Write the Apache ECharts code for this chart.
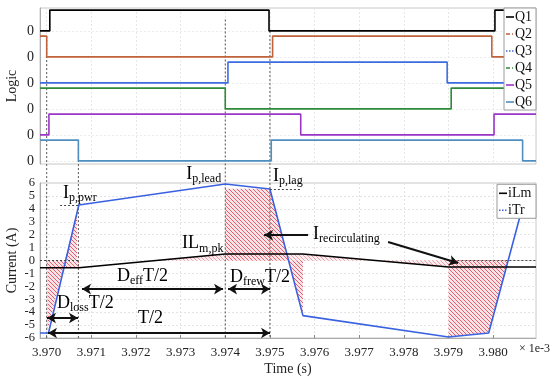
<!DOCTYPE html>
<html><head><meta charset="utf-8">
<script src="https://cdn.jsdelivr.net/npm/echarts@6/dist/echarts.min.js"></script>
<style>html,body{margin:0;padding:0;background:#fff}#c{width:550px;height:378px}</style>
</head><body><div id="c"></div>
<script>
// ---------- data ----------
const xMin = 3.96985, xMax = 3.98096;
const xTicks = [3.970,3.971,3.972,3.973,3.974,3.975,3.976,3.977,3.978,3.979,3.980];
const currentTicks = [-6,-5,-4,-3,-2,-1,0,1,2,3,4,5,6];
const logicNames = ['Q1','Q2','Q3','Q4','Q5','Q6'];
const logicOffsets = [6.25,5,3.75,2.5,1.25,0];
const q1Edges = [3.97007,3.97498,3.98004]; const q1States = [0,1,0,1];
const q2Edges = [3.97000,3.97506,3.97997]; const q2States = [1,0,1,0];
const q3Edges = [3.97406,3.97897];         const q3States = [0,1,0];
const q4Edges = [3.97400,3.97906];         const q4States = [1,0,1];
const q5Edges = [3.97005,3.97569,3.98002]; const q5States = [0,1,0,1];
const q6Edges = [3.97071,3.97503,3.98066]; const q6States = [1,0,1,0];
const logicColors = ['#000000','#c0623a','#3d6be0','#2f8a3a','#9a35c8','#4f8fc0'];
const logicDash = [null,[4,2,1,2],[1.5,1.5],[4,2,1,2],null,null];

const currentNames = ['iLm','iTr'];
const currentColors = ['#000000','#3a62e0'];
const currentDash = [null,[1.5,1.5]];
const iLmT = [3.96985,3.97072,3.9740,3.97574,3.9790,3.98096];
const iLmV = [-0.56,-0.56,0.50,0.50,-0.50,-0.50];
const iTrT = [3.96985,3.97004,3.97072,3.9740,3.9750,3.97574,3.9790,3.9799,3.98067,3.98096];
const iTrV = [-5.61,-5.61,4.30,5.92,5.53,-4.27,-5.92,-5.61,4.30,4.55];

const hatchAT = [3.97002,3.97068]; const hatchAV = [-5.40,3.80];
const hatchBT = [3.9740,3.9750,3.97574]; const hatchBV = [5.55,5.55,-4.27];
const hatchCT = [3.9790,3.9799,3.98034]; const hatchCV = [-5.92,-5.61,0];
const lmFillAT = [3.97000,3.97072]; const lmFillAV = [-0.56,-0.56];
const lmFillBT = [3.97228,3.9740,3.97574,3.9790,3.9799]; const lmFillBV = [0,0.50,0.50,-0.50,-0.50];

// guide lines (time, logic start value)
const guideT = [3.9700,3.97071,3.9740,3.9750];
const guideStart = [6.0,1.0,6.8,6.25];
// dotted horizontal references [t1,t2,value]
const refLines = [[3.96985,3.97072,0],[3.9703,3.97071,4.30],[3.9750,3.97569,5.53],[3.9792,3.98096,0]];
// arrows [t1,t2,value,startSymbol,endSymbol]
const arrows = [
  [3.970791,3.973950,-2.21,'arrow','arrow'],
  [3.974062,3.975003,-2.21,'arrow','arrow'],
  [3.970007,3.970701,-4.45,'arrow','arrow'],
  [3.970029,3.975003,-5.61,'arrow','arrow'],
  [3.975855,3.974869,1.97,'none','arrow']
];
const slantArrow = [[3.977647,1.43],[3.979216,-0.19]];
// annotations: [t, v, runs]
const notes = [
  [3.970365,5.22,[['I',0],['p,pwr',1]]],
  [3.973125,6.70,[['I',0],['p,lead',1]]],
  [3.975070,6.54,[['I',0],['p,lag',1]]],
  [3.973032,1.32,[['IL',0],['m,pk',1]]],
  [3.975967,2.05,[['I',0],['recirculating',1]]],
  [3.971575,-1.20,[['D',0],['eff',1],['T/2',0]]],
  [3.974107,-1.28,[['D',0],['frew',1],['T/2',0]]],
  [3.970231,-3.29,[['D',0],['loss',1],['T/2',0]]],
  [3.972046,-4.45,[['T/2',0]]]
];

// ---------- build ----------
const FONT = '"Liberation Serif", "Times New Roman", serif';
function stepData(edges, states, off){
  const d = [[xMin, states[0]+off]];
  edges.forEach((e,i)=>d.push([e, states[i+1]+off]));
  d.push([xMax, states[states.length-1]+off]);
  return d;
}
function zip(t,v){return t.map((x,i)=>[x,v[i]]);}
const logicEdges=[q1Edges,q2Edges,q3Edges,q4Edges,q5Edges,q6Edges];
const logicStates=[q1States,q2States,q3States,q4States,q5States,q6States];

const pc = document.createElement('canvas'); pc.width=4; pc.height=4;
const g = pc.getContext('2d');
g.fillStyle='#fbe3e7'; g.fillRect(0,0,4,4);
g.strokeStyle='#e0505e'; g.lineWidth=0.9;
g.beginPath(); g.moveTo(0,0); g.lineTo(4,4); g.moveTo(-1,3); g.lineTo(1,5); g.moveTo(3,-1); g.lineTo(5,1); g.stroke();
const hatch = {image: pc, repeat:'repeat'};

const series = [];
logicNames.forEach((n,i)=>{
  series.push({name:n,type:'line',xAxisIndex:0,yAxisIndex:0,step:'end',symbol:'none',
    data:stepData(logicEdges[i],logicStates[i],logicOffsets[i]),
    lineStyle:{color:logicColors[i],width:1.6},itemStyle:{color:logicColors[i]},z:3});
});
function areaSeries(t,v,op){
  return {type:'line',xAxisIndex:1,yAxisIndex:1,symbol:'none',data:zip(t,v),
    lineStyle:{width:0,opacity:0},areaStyle:{color:hatch,opacity:op,origin:0},z:1,silent:true};
}
series.push(areaSeries(lmFillAT,lmFillAV,0.9));
series.push(areaSeries(lmFillBT,lmFillBV,0.6));
series.push(areaSeries(hatchAT,hatchAV,1));
series.push(areaSeries(hatchBT,hatchBV,1));
series.push(areaSeries(hatchCT,hatchCV,1));

const mlData = [];
refLines.forEach(r=>mlData.push([{coord:[r[0],r[2]],symbol:'none',lineStyle:{type:[2,2],width:1,color:'#444'}},{coord:[r[1],r[2]],symbol:'none'}]));
arrows.forEach(a=>mlData.push([{coord:[a[0],a[2]],symbol:a[3],lineStyle:{type:'solid',width:2,color:'#111'}},{coord:[a[1],a[2]],symbol:a[4]}]));
mlData.push([{coord:slantArrow[0],symbol:'none',lineStyle:{type:'solid',width:2,color:'#111'}},{coord:slantArrow[1],symbol:'arrow'}]);

series.push({name:'iLm',type:'line',xAxisIndex:1,yAxisIndex:1,symbol:'none',data:zip(iLmT,iLmV),
  lineStyle:{color:currentColors[0],width:1.6},itemStyle:{color:currentColors[0]},z:4,
  markLine:{silent:true,symbolSize:[8,9],label:{show:false},data:mlData,animation:false}});
series.push({name:'iTr',type:'line',xAxisIndex:1,yAxisIndex:1,symbol:'none',data:zip(iTrT,iTrV),
  lineStyle:{color:currentColors[1],width:1.6},itemStyle:{color:currentColors[1]},z:3});

const axisLbl = {fontFamily:FONT,fontSize:13,color:'#222'};

const option = {
  animation:false,
  grid:[
    {left:40,right:14,top:8,height:156,show:true,borderColor:'#c8c8c8',borderWidth:1,outerBoundsMode:'none',containLabel:false},
    {left:40,right:14,top:183,height:155,show:true,borderColor:'#c8c8c8',borderWidth:1,outerBoundsMode:'none',containLabel:false}
  ],
  xAxis:[
    {type:'value',gridIndex:0,min:xMin,max:xMax,
     axisLine:{show:false},axisLabel:{show:false,customValues:xTicks},
     axisTick:{show:false,customValues:xTicks},
     splitLine:{show:true,lineStyle:{color:'#e6e6e6',type:[2,2]}}},
    {type:'value',gridIndex:1,min:xMin,max:xMax,
     axisLine:{show:true,onZero:false,lineStyle:{color:'#aaa'}},
     axisTick:{show:true,inside:true,length:3,customValues:xTicks,lineStyle:{color:'#888'}},
     axisLabel:Object.assign({customValues:xTicks,margin:8,formatter:v=>v.toFixed(3)},axisLbl),
     splitLine:{show:true,lineStyle:{color:'#e3e3e3',type:[2,2]}},
     name:'Time (s)',nameLocation:'middle',nameGap:24,nameMoveOverlap:false,nameTextStyle:{fontFamily:FONT,fontSize:14,color:'#222'}}
  ],
  yAxis:[
    {type:'value',gridIndex:0,min:-0.15,max:7.35,
     axisLine:{show:true,lineStyle:{color:'#aaa'}},
     axisTick:{show:false,customValues:logicOffsets},
     axisLabel:Object.assign({customValues:logicOffsets,formatter:()=> '0',margin:6},axisLbl,{fontSize:14}),
     splitLine:{show:true,lineStyle:{color:'#ececec',type:[2,2]}},
     name:'Logic',nameLocation:'middle',nameGap:21,nameMoveOverlap:false,nameTextStyle:{fontFamily:FONT,fontSize:14,color:'#222'}},
    {type:'value',gridIndex:1,min:-6,max:6,interval:1,
     axisLine:{show:true,lineStyle:{color:'#aaa'}},
     axisTick:{show:false},
     axisLabel:Object.assign({margin:5},axisLbl,{fontSize:12.5}),
     splitLine:{show:true,lineStyle:{color:'#e3e3e3',type:[2,2]}},
     name:'Current (A)',nameLocation:'middle',nameGap:21,nameMoveOverlap:false,nameTextStyle:{fontFamily:FONT,fontSize:14,color:'#222'}}
  ],
  series:series
};

const chart = echarts.init(document.getElementById('c'),null,{renderer:'canvas'});
chart.setOption(option);

// overlay: guide lines, legends and annotations
const mc = document.createElement('canvas').getContext('2d');
const graphics = [];
guideT.forEach((t,i)=>{
  const x = chart.convertToPixel({gridIndex:1},[t,0])[0];
  const y1 = chart.convertToPixel({gridIndex:0},[t,guideStart[i]])[1];
  const y2 = chart.convertToPixel({gridIndex:1},[t,-6])[1];
  graphics.push({type:'line',shape:{x1:x,y1:y1,x2:x,y2:y2},style:{stroke:'#555',lineWidth:1,lineDash:[2,2]},z:2,silent:true});
});
notes.forEach(n=>{
  const p = chart.convertToPixel({gridIndex:1},[n[0],n[1]]);
  let x = p[0];
  n[2].forEach(r=>{
    const fs = r[1]?12:18;
    mc.font = fs+'px '+FONT;
    graphics.push({type:'text',x:x,y:p[1]+(r[1]?5:0),z:20,silent:true,
      style:{text:r[0],fontFamily:FONT,fontSize:fs,fill:'#000',verticalAlign:'middle',align:'left'}});
    x += mc.measureText(r[0]).width;
  });
});
function legendBox(gridIdx, yTopVal, names, colors, dashes, boxW){
  const right = chart.convertToPixel({gridIndex:gridIdx},[xMax,0])[0];
  const top = chart.convertToPixel({gridIndex:gridIdx},[xMax,yTopVal])[1];
  const step = 17, h = names.length*step;
  const left = right - boxW;
  graphics.push({type:'rect',shape:{x:left,y:top,width:boxW,height:h},style:{fill:'#fff',stroke:'#9a9a9a',lineWidth:1},z:30});
  names.forEach((n,i)=>{
    const cy = top + 9 + i*step;
    graphics.push({type:'line',shape:{x1:left+2,y1:cy,x2:left+10,y2:cy},style:{stroke:colors[i],lineWidth:1.6,lineDash:dashes[i]||null},z:31});
    graphics.push({type:'text',x:left+11,y:cy,z:31,style:{text:n,fontFamily:FONT,fontSize:14,fill:'#111',verticalAlign:'middle',align:'left'}});
  });
}
legendBox(0,7.35,logicNames,logicColors,logicDash,32);
legendBox(1,5.9,currentNames,currentColors,currentDash,39);
graphics.push({type:'text',x:519,y:349,z:20,style:{text:'\u00d7 1e-3',fontFamily:FONT,fontSize:12,fill:'#222',verticalAlign:'middle',align:'left'}});
chart.setOption({graphic:graphics});
</script>
</body></html>
